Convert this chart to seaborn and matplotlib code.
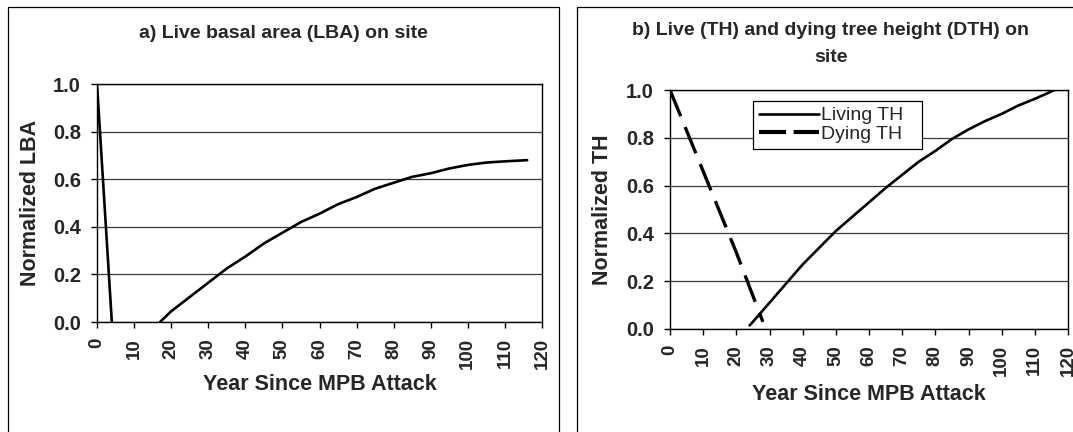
import numpy as np
import pandas as pd
import matplotlib
matplotlib.use("Agg")
import matplotlib.pyplot as plt
import seaborn as sns
from matplotlib.patches import Rectangle
from matplotlib.lines import Line2D

# ---------------- data ----------------
lba_drop_years = [0, 1, 2, 3, 4]
lba_drop_values = [1.0, 0.75, 0.5, 0.25, 0.0]

lba_regrow_years = [17, 20, 25, 30, 35, 40, 45, 50, 55, 60, 65, 70, 75, 80,
                    85, 90, 95, 100, 105, 110, 116]
lba_regrow_values = [0.0, 0.045, 0.105, 0.165, 0.225, 0.275, 0.33, 0.375, 0.42,
                     0.455, 0.495, 0.525, 0.56, 0.585, 0.61, 0.625, 0.645, 0.66,
                     0.67, 0.675, 0.68]

living_years = [24, 25, 30, 35, 40, 45, 50, 55, 60, 65, 70, 75, 80, 85, 90,
                95, 100, 105, 110, 116]
living_values = [0.015, 0.03, 0.11, 0.19, 0.27, 0.34, 0.41, 0.47, 0.53, 0.59,
                 0.645, 0.70, 0.745, 0.795, 0.835, 0.87, 0.90, 0.935, 0.963, 1.0]

dying_years = [0, 10, 20, 28]
dying_values = [1.0, 0.66, 0.32, 0.03]

x_ticks = list(range(0, 121, 10))
y_ticks = [0.0, 0.2, 0.4, 0.6, 0.8, 1.0]

title_a = "a) Live basal area (LBA) on site"
title_b = "b) Live (TH) and dying tree height (DTH) on\nsite"
xlabel = "Year Since MPB Attack"
ylabel_a = "Normalized LBA"
ylabel_b = "Normalized TH"
series_labels = ["Living TH", "Dying TH"]

# ---------------- styling ----------------
sns.set_style("white")
plt.rcParams["font.family"] = ["Liberation Sans", "DejaVu Sans"]

W, H = 1073, 432
fig = plt.figure(figsize=(W / 100, H / 100), dpi=100)


def px_axes(x0, x1, ytop, ybot):
    return fig.add_axes([x0 / W, 1 - ybot / H, (x1 - x0) / W, (ybot - ytop) / H])


# panel frames
fig.patches.append(Rectangle((8 / W, -0.1), (559 - 8) / W, (H - 7) / H + 0.1,
                             transform=fig.transFigure, fill=False,
                             edgecolor="black", lw=0.9))
fig.patches.append(Rectangle((577 / W, -0.1), 0.6, (H - 7) / H + 0.1,
                             transform=fig.transFigure, fill=False,
                             edgecolor="black", lw=0.9))

axA = px_axes(97, 542, 84, 322)
axB = px_axes(670, 1068, 90, 329)

# left panel data
dfA = pd.DataFrame({
    "year": lba_drop_years + lba_regrow_years,
    "value": lba_drop_values + lba_regrow_values,
    "seg": ["a"] * len(lba_drop_years) + ["b"] * len(lba_regrow_years),
})
sns.lineplot(data=dfA, x="year", y="value", units="seg", estimator=None,
             color="black", lw=1.9, ax=axA, legend=False)

# right panel data
dfB = pd.DataFrame({
    "year": living_years + dying_years,
    "value": living_values + dying_values,
    "series": [series_labels[0]] * len(living_years) + [series_labels[1]] * len(dying_years),
})
sns.lineplot(data=dfB[dfB.series == series_labels[0]], x="year", y="value",
             color="black", lw=1.9, ax=axB, legend=False)
sns.lineplot(data=dfB[dfB.series == series_labels[1]], x="year", y="value",
             color="black", lw=2.4, ax=axB, legend=False)
axB.lines[-1].set_dashes((8.5, 3.5))

for ax, yl in [(axA, ylabel_a), (axB, ylabel_b)]:
    ax.set_xlim(0, 120)
    ax.set_ylim(0, 1.0)
    ax.set_xticks(x_ticks)
    ax.set_yticks(y_ticks)
    ax.set_xticklabels([str(t) for t in x_ticks], rotation=90, fontweight="bold", fontsize=13.5)
    ax.set_yticklabels([f"{t:.1f}" for t in y_ticks], fontweight="bold", fontsize=14.5)
    ax.tick_params(axis="both", which="major", direction="out", length=4.5,
                   width=1, color="black", pad=7, bottom=True, left=True)
    ax.yaxis.grid(True, color="#3a3a3a", lw=0.9)
    ax.xaxis.grid(False)
    ax.set_axisbelow(True)
    for s in ax.spines.values():
        s.set_visible(True)
        s.set_color("black")
        s.set_linewidth(1.0)
    ax.set_xlabel(xlabel, fontweight="bold", fontsize=15.5)
    ax.set_ylabel(yl, fontweight="bold", fontsize=15.5)
    ax.xaxis.label.set_va("center")
    ax.yaxis.label.set_va("center")

axA.xaxis.set_label_coords(0.5, (322 - 385) / 238)
axA.yaxis.set_label_coords((31 - 97) / 445, 0.5)
axB.xaxis.set_label_coords(0.5, (329 - 394) / 239)
axB.yaxis.set_label_coords((603 - 670) / 398, 0.5)

fig.text(283 / W, 1 - 33 / H, title_a, ha="center", va="center",
         fontsize=14, fontweight="bold")
fig.text(831 / W, 1 - 44 / H, title_b, ha="center", va="center",
         fontsize=14, fontweight="bold", multialignment="center", linespacing=1.75)

handles = [Line2D([], [], color="black", lw=1.9),
           Line2D([], [], color="black", lw=3.0, dashes=(6.5, 1.8))]
leg = axB.legend(handles, series_labels, loc="upper left",
                 bbox_to_anchor=(753 / W, 1 - 152 / H, 169 / W, 51 / H),
                 bbox_transform=fig.transFigure, mode="expand",
                 borderaxespad=0, frameon=True, fancybox=False, framealpha=1,
                 edgecolor="black", prop={"size": 14, "weight": "normal"},
                 handlelength=3.1, handletextpad=0.1, borderpad=0.3,
                 labelspacing=0.05)
leg.get_frame().set_linewidth(0.9)

fig.savefig("out.png", dpi=100)
